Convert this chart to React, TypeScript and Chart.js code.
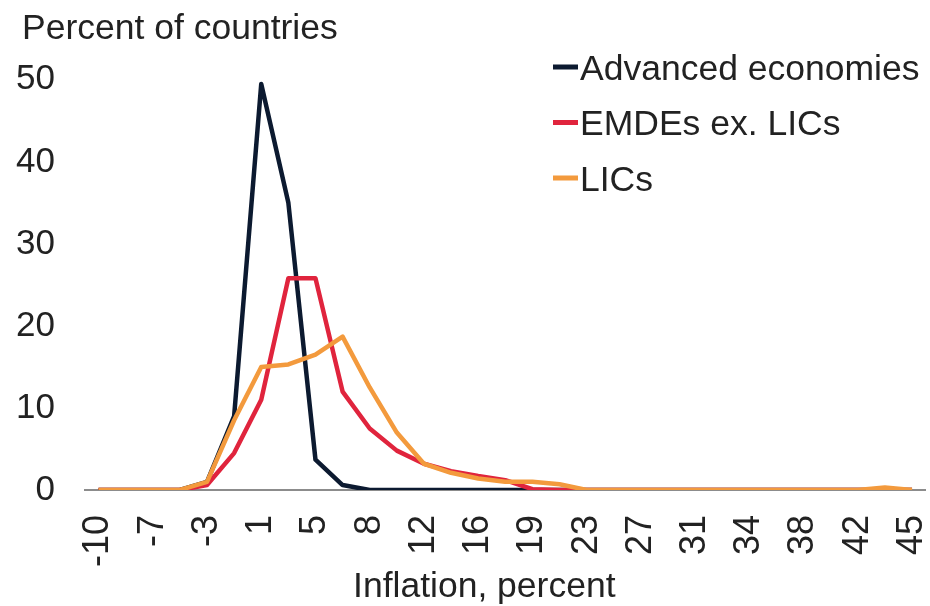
import React, { useEffect, useRef } from 'react';
import { Chart, registerables } from 'chart.js';

Chart.register(...registerables);

// ---- data ----
const tickLabels = ['-10', '-7', '-3', '1', '5', '8', '12', '16', '19', '23', '27', '31', '34', '38', '42', '45'];
// one unlabelled bin between each pair of labelled bins
const categories: string[] = [];
tickLabels.forEach((t, i) => {
  categories.push(t);
  if (i < tickLabels.length - 1) categories.push('');
});

const advancedEconomies = [0, 0, 0, 0, 1, 9, 49.5, 35, 3.7, 0.6, 0, 0, 0, 0, 0, 0, 0, 0, 0, 0, 0, 0, 0, 0, 0, 0, 0, 0, 0, 0, 0];
const emdesExLics = [0, 0, 0, 0, 0.6, 4.5, 11, 25.8, 25.8, 12, 7.5, 4.8, 3.2, 2.3, 1.7, 1.2, 0.1, 0, 0, 0, 0, 0, 0, 0, 0, 0, 0, 0, 0, 0, 0];
const lics = [0, 0, 0, 0, 1, 8.5, 15, 15.3, 16.5, 18.7, 12.5, 7, 3.2, 2.1, 1.4, 1.0, 1.0, 0.7, 0, 0, 0, 0, 0, 0, 0, 0, 0, 0, 0, 0.3, 0];

const seriesNames = ['Advanced economies', 'EMDEs ex. LICs', 'LICs'];
const seriesColors = ['#0c1a30', '#e0243d', '#f39a3d'];
const yTitle = 'Percent of countries';
const xTitle = 'Inflation, percent';

const FONT = '"Liberation Sans", Arial, sans-serif';
const TEXT = '#222222';

const overlayPlugin = {
  id: 'overlay',
  afterDraw(chart: any) {
    const ctx = chart.ctx as CanvasRenderingContext2D;
    const area = chart.chartArea;
    ctx.save();
    ctx.font = `35.5px ${FONT}`;
    ctx.textBaseline = 'alphabetic';
    ctx.fillStyle = TEXT;
    // y axis title (horizontal, top-left)
    ctx.textAlign = 'left';
    ctx.fillText(yTitle, 22, 38.5);
    // legend
    chart.data.datasets.forEach((ds: any, i: number) => {
      const x = 553;
      const cy = 67 + i * 55.5;
      ctx.fillStyle = ds.borderColor;
      ctx.fillRect(x, cy - 2.5, 25, 5);
      ctx.fillStyle = TEXT;
      ctx.textAlign = 'left';
      ctx.fillText(ds.label, x + 27, cy + 12.5);
    });
    // x axis title
    ctx.textAlign = 'center';
    ctx.fillStyle = TEXT;
    ctx.fillText(xTitle, (area.left + area.right) / 2 - 21, chart.height - 9.5);
    ctx.restore();
  },
};

export default function App() {
  const ref = useRef<HTMLCanvasElement>(null);
  useEffect(() => {
    const datasets = [advancedEconomies, emdesExLics, lics].map((d, i) => ({
      label: seriesNames[i],
      data: d,
      borderColor: seriesColors[i],
      backgroundColor: seriesColors[i],
      borderWidth: 4.5,
      pointRadius: 0,
      tension: 0,
      borderJoinStyle: 'round' as const,
      borderCapStyle: 'butt' as const,
      order: 3 - i,
    }));
    const chart = new Chart(ref.current!, {
      type: 'line',
      data: { labels: categories, datasets },
      options: {
        animation: false,
        responsive: true,
        maintainAspectRatio: false,
        layout: { padding: { left: 0, right: 0, top: 47, bottom: 0 } },
        plugins: {
          legend: { display: false },
          tooltip: { enabled: false },
          title: { display: false },
        },
        scales: {
          x: {
            type: 'category',
            offset: true,
            grid: { display: false, drawTicks: true, tickLength: 25 },
            border: { display: true, color: '#8c8c8c', width: 2 },
            ticks: {
              autoSkip: false,
              maxRotation: 90,
              minRotation: 90,
              padding: 0,
              color: TEXT,
              font: { family: FONT, size: 36, lineHeight: 0.5 },
            },
            afterFit: (s: any) => {
              s.height = 116;
            },
          },
          y: {
            min: 0,
            max: 54,
            grid: { display: false, drawTicks: false },
            border: { display: false },
            ticks: {
              stepSize: 10,
              includeBounds: false,
              padding: 30,
              color: TEXT,
              font: { family: FONT, size: 35, lineHeight: 0.6 },
            },
            afterFit: (s: any) => {
              s.width = 85;
            },
          },
        },
      },
      plugins: [overlayPlugin],
    });
    return () => chart.destroy();
  }, []);
  return (
    <div style={{ position: 'fixed', left: 0, top: 0, width: 930, height: 606, background: '#fff' }}>
      <canvas ref={ref} />
    </div>
  );
}
